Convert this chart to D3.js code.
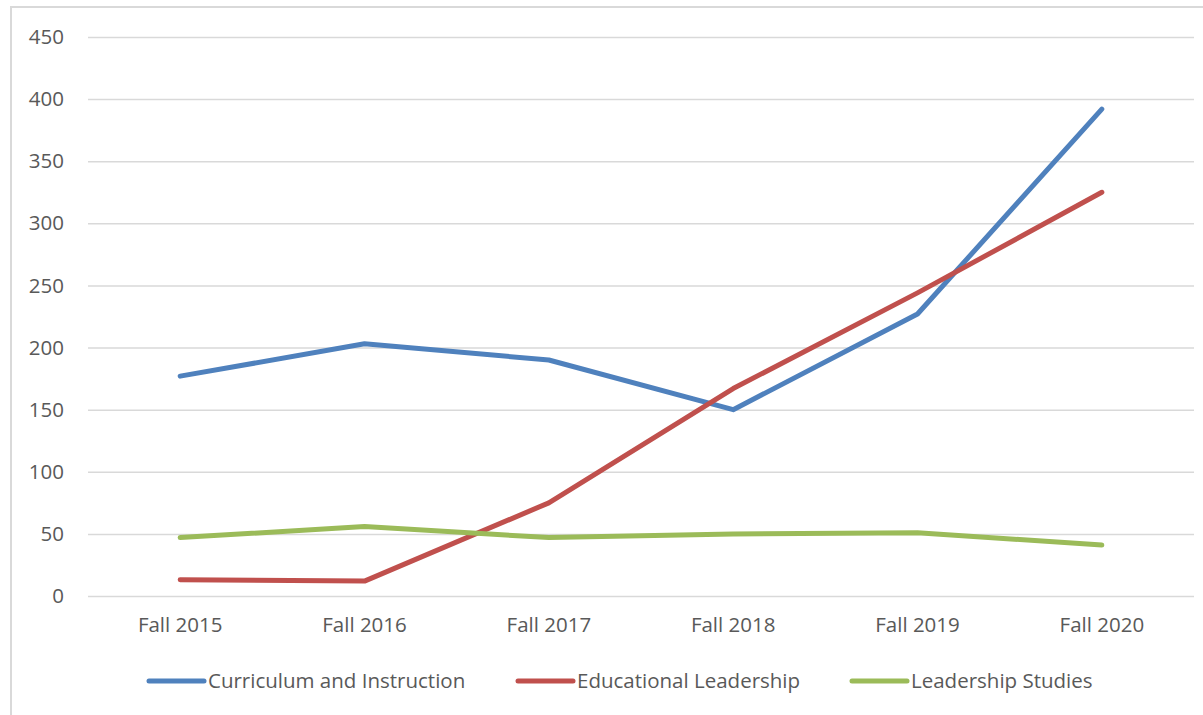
<!DOCTYPE html>
<html>
<head>
<meta charset="utf-8">
<script src="https://cdn.jsdelivr.net/npm/d3@7"></script>
<style>
  body { margin: 0; background: #fff; }
  text { font-family: "Open Sans", "Noto Sans", sans-serif; fill: #595959; }
</style>
</head>
<body>
<div id="chart"></div>
<script>
var categories = ["Fall 2015", "Fall 2016", "Fall 2017", "Fall 2018", "Fall 2019", "Fall 2020"]
var curriculum = [177, 203, 190, 150, 227, 392]
var educational = [13, 12, 75, 167, 244, 325]
var leadership = [47, 56, 47, 50, 51, 41]
var yTicks = [0, 50, 100, 150, 200, 250, 300, 350, 400, 450]
var seriesNames = ["Curriculum and Instruction", "Educational Leadership", "Leadership Studies"]
var colors = ["#4f81bd", "#c0504d", "#9bbb59"]

var W = 1203, H = 715
var mLeft = 88, mRight = 1194, mTop = 37, mBottom = 596
var fontSize = "20.5px"

var svg = d3.select("#chart").append("svg").attr("width", W).attr("height", H)

// chart frame
svg.append("rect").attr("x", 11).attr("y", 7).attr("width", W).attr("height", H)
  .attr("fill", "none").attr("stroke", "#d9d9d9").attr("stroke-width", 2)

var xs = d3.scaleBand().domain(categories).range([mLeft, mRight])
var ys = d3.scaleLinear().domain([0, 450]).range([mBottom, mTop])

// gridlines + y labels
var yAxis = svg.append("g")
  .attr("transform", "translate(" + mLeft + ",0)")
  .call(d3.axisLeft(ys).tickValues(yTicks).tickSize(-(mRight - mLeft)).tickPadding(24))
yAxis.select(".domain").remove()
yAxis.selectAll("line").attr("stroke", "#d9d9d9").attr("stroke-width", 1.5)
yAxis.selectAll("text").style("font-size", fontSize).attr("fill", "#595959")

var xAxis = svg.append("g")
  .attr("transform", "translate(0," + mBottom + ")")
  .call(d3.axisBottom(xs).tickSize(0).tickPadding(21))
xAxis.select(".domain").remove()
xAxis.selectAll("text").style("font-size", fontSize).attr("fill", "#595959")

var line = d3.line()
  .x(function (d, i) { return xs(categories[i]) + xs.bandwidth() / 2 })
  .y(function (d) { return ys(d) })

var allSeries = [curriculum, educational, leadership]
allSeries.forEach(function (s, k) {
  svg.append("path").datum(s)
    .attr("d", line)
    .attr("fill", "none")
    .attr("stroke", colors[k])
    .attr("stroke-width", 5)
    .attr("stroke-linejoin", "round")
    .attr("stroke-linecap", "round")
})

// legend
var legendX = [149, 518, 852]
seriesNames.forEach(function (name, k) {
  var g = svg.append("g").attr("transform", "translate(" + legendX[k] + ",681)")
  g.append("line").attr("x1", 0).attr("x2", 55).attr("y1", 0).attr("y2", 0)
    .attr("stroke", colors[k]).attr("stroke-width", 5).attr("stroke-linecap", "round")
  g.append("text").attr("x", 59).attr("y", 0).attr("dy", "0.35em")
    .style("font-size", fontSize).text(name)
})
</script>
</body>
</html>
